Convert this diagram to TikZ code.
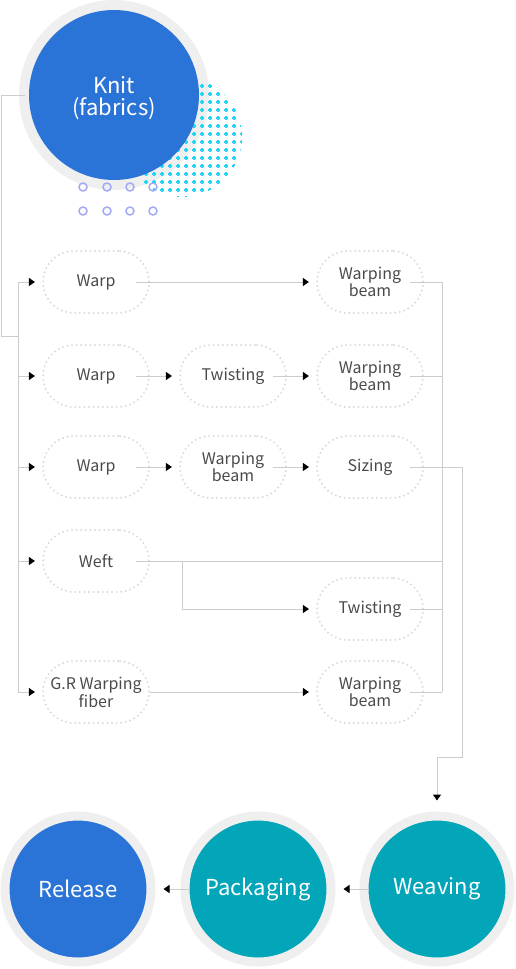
\documentclass[tikz,border=0pt]{standalone}
\usepackage{fontspec}
\setmainfont{Noto Sans CJK KR}
\usepackage{xcolor}
\usepackage{tikz}
\usetikzlibrary{arrows.meta,positioning}
\definecolor{knitblue}{HTML}{2B74D7}
\definecolor{weavteal}{HTML}{03A5B8}
\definecolor{ringgray}{HTML}{EFEFEF}
\definecolor{linegray}{HTML}{CCCCCC}
\definecolor{dotgray}{HTML}{DADADA}
\definecolor{txtgray}{HTML}{4A4A4A}
\definecolor{pluscyan}{HTML}{1CD8F4}
\definecolor{lavender}{HTML}{A3A9F3}
\tikzset{
  stepbox/.style={rectangle, rounded corners=31pt, minimum width=106pt, minimum height=62pt, inner sep=0pt,
    draw=dotgray, line width=2.2pt, dash pattern=on 0pt off 4.6pt, line cap=round,
    text=txtgray, align=center, font=\fontsize{16}{15}\selectfont},
  bigstep/.style={circle, inner sep=0pt, minimum size=146pt, draw=ringgray, line width=9pt,
    text=white, align=center, font=\fontsize{22}{22}\selectfont},
  link/.style={draw=linegray, line width=1pt},
  flow/.style={link, -{Triangle[length=6pt, width=8pt, color=black]}, shorten >=7pt},
  plusmark/.style={pluscyan, line width=1.7pt}
}

\begin{document}
\begin{tikzpicture}[x=1pt, y=-1pt]
  \useasboundingbox (0,0) rectangle (515,969);
  % ring and dotted decoration behind the knit circle
  \fill[ringgray] (114,95) circle (95);
  \begin{scope}
    \clip (182,137) circle (60);
    \foreach \x in {122,130,...,250}
      \foreach \y in {78,86,...,202}
        \draw[plusmark] (\x-2.3,\y) -- (\x+2.3,\y) (\x,\y-2.3) -- (\x,\y+2.3);
  \end{scope}
  \foreach \x in {83,107,130,153}
    \foreach \y in {187,211}
      \draw[lavender, line width=1.5pt] (\x,\y) circle (4);

  \node[bigstep, fill=knitblue, draw=none, minimum size=170pt] (knit) at (114,95) {};
  \node[text=white, align=center, font=\fontsize{22}{22}\selectfont] (knittxt) at (114,98) {Knit\\(fabrics)};

  % left column
  \node[stepbox] (w1) at (96,282) {Warp};
  \node[stepbox] (w2) at (96,376) {Warp};
  \node[stepbox] (w3) at (96,467) {Warp};
  \node[stepbox] (wf) at (96,561) {Weft};
  \node[stepbox] (gr) at (96,692) {G.R Warping\\fiber};
  % middle column
  \node[stepbox] (t2) at (233,376) {Twisting};
  \node[stepbox] (m3) at (233,467) {Warping\\beam};
  % right column
  \node[stepbox] (b1) at (370,282) {Warping\\beam};
  \node[stepbox] (b2) at (370,376) {Warping\\beam};
  \node[stepbox] (sz) at (370,467) {Sizing};
  \node[stepbox] (tw) at (370,609) {Twisting};
  \node[stepbox] (b5) at (370,692) {Warping\\beam};

  % bottom row
  \node[bigstep, fill=weavteal] (weave) at (437,889) {Weaving};
  \node[bigstep, fill=weavteal] (pack) at (258,889) {Packaging};
  \node[bigstep, fill=knitblue] (rel) at (78,889) {Release};

  \coordinate (spine) at (18,0);
  \coordinate (lft) at (1,336);
  \coordinate (coll) at (442,0);
  \coordinate (split) at (182,0);
  \coordinate (out) at (462,757);

  % knit to the rows
  \draw[link] (knit) -| (lft) -- (lft -| spine);
  \draw[link] (w1 -| spine) -- (gr -| spine);
  \foreach \n in {w1,w2,w3,wf,gr}
    \draw[flow] (\n -| spine) -- (\n);

  \draw[flow, shorten <=-14pt] (w1) -- (b1);
  \draw[flow, shorten <=-14pt] (w2) -- (t2);
  \draw[flow, shorten <=-14pt] (t2) -- (b2);
  \draw[flow, shorten <=-14pt] (w3) -- (m3);
  \draw[flow, shorten <=-14pt] (m3) -- (sz);
  \draw[link, shorten <=-14pt] (wf) -- (wf -| coll);
  \draw[flow] (wf -| split) |- (tw);
  \draw[flow] (gr) -- (b5);

  % collect on the right
  \foreach \n in {b1,b2,tw,b5}
    \draw[link, shorten <=-14pt] (\n) -- (\n -| coll);
  \draw[link] (b1 -| coll) -- (b5 -| coll);
  \draw[flow, shorten <=-14pt, shorten >=11pt] (sz) -| (out) -| (weave);

  \draw[flow, shorten <=-9pt, shorten >=8pt] (weave) -- (pack);
  \draw[flow, shorten <=-9pt, shorten >=8pt] (pack) -- (rel);
\end{tikzpicture}
\end{document}
